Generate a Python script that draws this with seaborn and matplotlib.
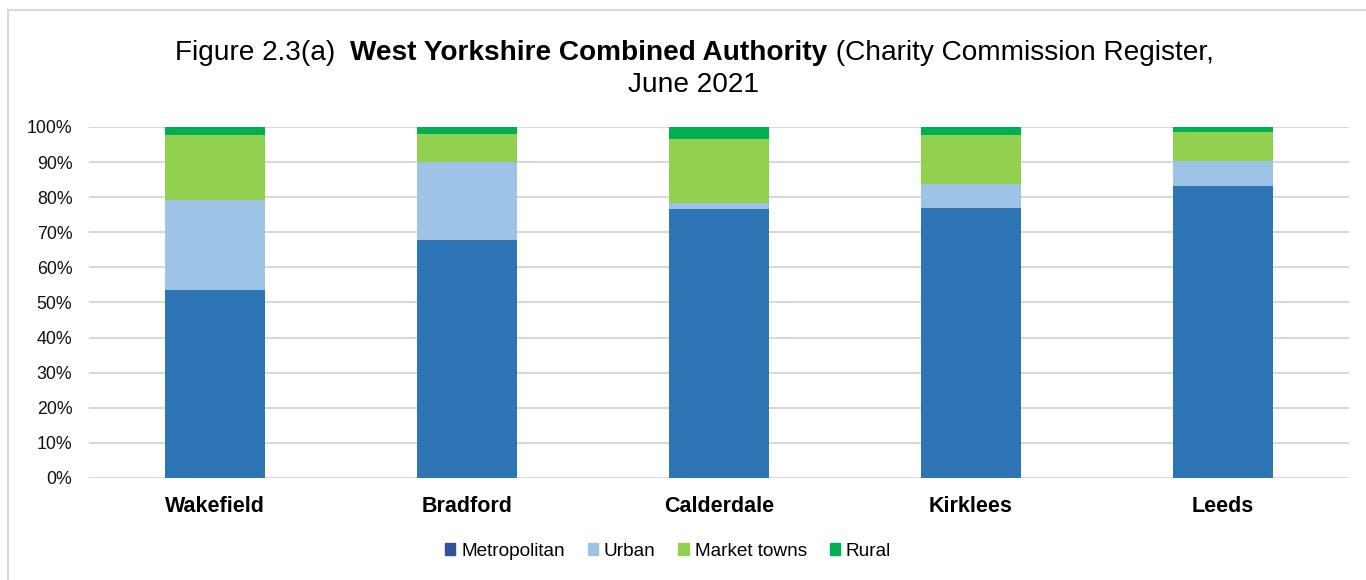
import numpy as np
import pandas as pd
import matplotlib
matplotlib.use("Agg")
import matplotlib.pyplot as plt
import seaborn as sns
from matplotlib.patches import Patch, Rectangle
from matplotlib.ticker import PercentFormatter

districts = ["Wakefield", "Bradford", "Calderdale", "Kirklees", "Leeds"]
metropolitan = [53.6, 67.7, 76.6, 76.8, 83.2]
urban = [25.6, 22.4, 1.7, 7.0, 7.2]
market_towns = [18.5, 7.8, 18.2, 13.8, 8.3]
rural = [2.3, 2.1, 3.5, 2.4, 1.3]

series_names = ["Metropolitan", "Urban", "Market towns", "Rural"]
colors = ["#2E75B6", "#9DC3E6", "#92D050", "#00B050"]
legend_colors = ["#2F5597", "#9DC3E6", "#92D050", "#00B050"]

sns.set_theme(style="white")
plt.rcParams["font.family"] = ["Liberation Sans", "DejaVu Sans"]
plt.rcParams["text.color"] = "black"

df = pd.DataFrame({"district": districts, "Metropolitan": metropolitan,
                   "Urban": urban, "Market towns": market_towns, "Rural": rural})
cum = df[series_names].cumsum(axis=1)

fig = plt.figure(figsize=(13.66, 5.8), dpi=100)
ax = fig.add_axes([0.0652, 0.1759, 0.9223, 0.6052])

# draw from the tallest cumulative layer down so each one shows through
for name, c in reversed(list(zip(series_names, colors))):
    sns.barplot(x=df["district"], y=cum[name] / 100, color=c, width=0.4,
                saturation=1, linewidth=0, ax=ax, zorder=3)

ax.set_xlim(-0.5, len(districts) - 0.5)
ax.set_ylim(0, 1)
ax.set_yticks(np.arange(0, 1.01, 0.1))
ax.yaxis.set_major_formatter(PercentFormatter(1.0, decimals=0))
ax.grid(axis="y", color="#D9D9D9", linewidth=1.5)
ax.set_axisbelow(True)
for s in ax.spines.values():
    s.set_visible(False)
ax.set_xlabel("")
ax.set_ylabel("")
ax.tick_params(axis="y", length=0, labelsize=12.8, colors="#111111", pad=12)
ax.tick_params(axis="x", length=0, labelsize=15.5, pad=13, colors="black")
for t in ax.get_xticklabels():
    t.set_fontweight("bold")

handles = [Patch(color=c, label=n) for n, c in zip(series_names, legend_colors)]
fig.legend(handles=handles, loc="center", bbox_to_anchor=(668 / 1366, 1 - 551 / 580),
           ncol=4, frameon=False, fontsize=13.7, handlelength=0.55, handleheight=0.55,
           handletextpad=0.3, columnspacing=1.2, labelcolor="black")

# title: regular / bold / regular pieces on one line
fig.canvas.draw()
r = fig.canvas.get_renderer()
parts = [("Figure 2.3(a)  ", "normal"), ("West Yorkshire Combined Authority", "bold"),
         (" (Charity Commission Register,", "normal")]
texts = [fig.text(0, 0, p, fontsize=20.2, fontweight=w, va="center", color="black")
         for p, w in parts]
widths = [t.get_window_extent(r).width for t in texts]
x0 = 694 - sum(widths) / 2
for t, w in zip(texts, widths):
    t.set_position((x0 / 1366, 1 - 53 / 580))
    x0 += w
fig.text(694 / 1366, 1 - 85 / 580, "June 2021", fontsize=20.2, ha="center",
         va="center", color="black")

fig.patches.append(Rectangle((8 / 1366, -0.1), 1.2, 1.1 - 10 / 580,
                             transform=fig.transFigure, fill=False,
                             edgecolor="#D9D9D9", linewidth=1.5))

fig.savefig("out.png", dpi=100)
